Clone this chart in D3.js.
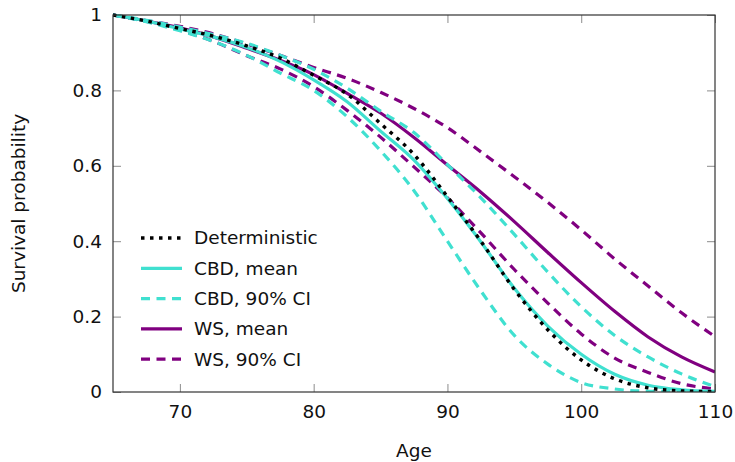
<!DOCTYPE html>
<html>
<head>
<meta charset="utf-8">
<script src="https://cdn.jsdelivr.net/npm/d3@7"></script>
<style>
	html, body { margin: 0; padding: 0; background: #fff; }
	svg text { font-family: "DejaVu Sans", sans-serif; fill: #111; }
</style>
</head>
<body>
<div id="chart"></div>
<script>
"use strict";

var ages = [65, 67.5, 70, 72.5, 75, 77.5, 80, 82.5, 85, 87.5, 90, 92.5, 95, 97.5, 100, 102.5, 105, 107.5, 110];

var deterministic = [1, 0.984, 0.964, 0.944, 0.918, 0.886, 0.840, 0.790, 0.712, 0.630, 0.518, 0.400, 0.272, 0.165, 0.085, 0.035, 0.011, 0.003, 0.001];
var cbdMean  = [1, 0.984, 0.963, 0.942, 0.914, 0.877, 0.828, 0.770, 0.692, 0.615, 0.513, 0.398, 0.275, 0.175, 0.100, 0.047, 0.018, 0.006, 0.002];
var cbdUpper = [1, 0.986, 0.968, 0.948, 0.925, 0.893, 0.856, 0.806, 0.745, 0.688, 0.603, 0.515, 0.418, 0.318, 0.226, 0.150, 0.093, 0.048, 0.014];
var cbdLower = [1, 0.982, 0.958, 0.930, 0.893, 0.846, 0.800, 0.730, 0.640, 0.534, 0.400, 0.268, 0.150, 0.074, 0.025, 0.008, 0.002, 0.001, 0.000];
var wsMean   = [1, 0.984, 0.966, 0.942, 0.912, 0.880, 0.842, 0.792, 0.740, 0.675, 0.602, 0.530, 0.452, 0.370, 0.290, 0.214, 0.146, 0.093, 0.053];
var wsUpper  = [1, 0.985, 0.970, 0.950, 0.923, 0.893, 0.861, 0.832, 0.795, 0.752, 0.701, 0.637, 0.571, 0.503, 0.430, 0.353, 0.281, 0.210, 0.147];
var wsLower  = [1, 0.983, 0.960, 0.930, 0.892, 0.857, 0.810, 0.747, 0.676, 0.597, 0.515, 0.422, 0.325, 0.236, 0.154, 0.090, 0.052, 0.022, 0.008];

var xTicks = [70, 80, 90, 100, 110];
var yTicks = [0, 0.2, 0.4, 0.6, 0.8, 1];
var yTickLabels = ["0", "0.2", "0.4", "0.6", "0.8", "1"];

var legendLabels = ["Deterministic", "CBD, mean", "CBD, 90% CI", "WS, mean", "WS, 90% CI"];

var CYAN = "#40e0d0";
var PURPLE = "#800080";
var DASHED = "9 6.5";
var DOTTED = "3.5 5.5";
var FONT_SIZE = 18.5;

// one entry per drawn curve
var series = [
	{values: wsLower,       color: PURPLE, dash: DASHED, width: 3.2},
	{values: wsUpper,       color: PURPLE, dash: DASHED, width: 3.2},
	{values: wsMean,        color: PURPLE, dash: null,   width: 3.2},
	{values: cbdLower,      color: CYAN,   dash: DASHED, width: 3.2},
	{values: cbdUpper,      color: CYAN,   dash: DASHED, width: 3.2},
	{values: cbdMean,       color: CYAN,   dash: null,   width: 3.2},
	{values: deterministic, color: "#000", dash: DOTTED, width: 3.4}
];

var legendStyles = [
	{color: "#000", dash: DOTTED, width: 3.4},
	{color: CYAN,   dash: null,   width: 3.2},
	{color: CYAN,   dash: DASHED, width: 3.2},
	{color: PURPLE, dash: null,   width: 3.2},
	{color: PURPLE, dash: DASHED, width: 3.2}
];

var viewWidth = 735, viewHeight = 462;
var margins = {top: 15, right: 20, bottom: 70, left: 113};
var graphWidth = viewWidth - margins.left - margins.right;
var graphHeight = viewHeight - margins.top - margins.bottom;

var svg = d3.select("#chart").append("svg")
	.attr("width", viewWidth)
	.attr("height", viewHeight)
	.append("g")
		.attr("transform", "translate(" + margins.left + "," + margins.top + ")");

var x = d3.scaleLinear().domain([65, 110]).range([0, graphWidth]);
var y = d3.scaleLinear().domain([0, 1]).range([graphHeight, 0]);

// inside ticks on all four sides, pgfplots style
function tickAxis(axis, transform, cls) {
	var g = svg.append("g")
		.attr("class", cls)
		.attr("transform", transform)
		.call(axis);
	g.select(".domain").remove();
	g.selectAll(".tick line").attr("stroke", "#8c8c8c").attr("stroke-width", 1);
	g.selectAll(".tick text").attr("font-size", FONT_SIZE).attr("fill", "#111");
	return g;
}

tickAxis(d3.axisBottom(x).tickValues(xTicks).tickSize(-8).tickPadding(13),
	"translate(0," + graphHeight + ")", "x axis");

tickAxis(d3.axisTop(x).tickValues(xTicks).tickSize(-8).tickFormat(""), "translate(0,0)", "x2 axis");

tickAxis(d3.axisLeft(y).tickValues(yTicks).tickSize(-8).tickPadding(11)
	.tickFormat(function(d, i) { return yTickLabels[i]; }), "translate(0,0)", "y axis");

tickAxis(d3.axisRight(y).tickValues(yTicks).tickSize(-8).tickFormat(""),
	"translate(" + graphWidth + ",0)", "y2 axis");

var line = d3.line()
	.x(function(d, i) { return x(ages[i]); })
	.y(function(d) { return y(d); })
	.curve(d3.curveMonotoneX);

svg.append("clipPath").attr("id", "plot-clip")
	.append("rect").attr("x", 0).attr("y", -2).attr("width", graphWidth).attr("height", graphHeight + 2);

svg.append("g").attr("clip-path", "url(#plot-clip)")
	.selectAll("path")
	.data(series)
	.enter().append("path")
		.attr("d", function(s) { return line(s.values); })
		.attr("fill", "none")
		.attr("stroke", function(s) { return s.color; })
		.attr("stroke-width", function(s) { return s.width; })
		.attr("stroke-dasharray", function(s) { return s.dash; });

// frame
svg.append("rect")
	.attr("width", graphWidth)
	.attr("height", graphHeight)
	.attr("fill", "none")
	.attr("stroke", "#333")
	.attr("stroke-width", 1.2);

// legend, no box
var legend = svg.append("g").attr("transform", "translate(28,223)");
var rows = legend.selectAll("g")
	.data(legendLabels)
	.enter().append("g")
		.attr("transform", function(d, i) { return "translate(0," + (i * 30.3) + ")"; });

rows.append("line")
	.attr("x1", 0).attr("x2", 41)
	.attr("stroke", function(d, i) { return legendStyles[i].color; })
	.attr("stroke-width", function(d, i) { return legendStyles[i].width; })
	.attr("stroke-dasharray", function(d, i) { return legendStyles[i].dash; });

rows.append("text")
	.attr("x", 53)
	.attr("dy", "0.35em")
	.attr("font-size", FONT_SIZE)
	.text(function(d) { return d; });

// axis titles
svg.append("text")
	.attr("x", graphWidth / 2)
	.attr("y", graphHeight + 65)
	.attr("text-anchor", "middle")
	.attr("font-size", FONT_SIZE)
	.text("Age");

svg.append("text")
	.attr("transform", "translate(-88," + (graphHeight / 2) + ") rotate(-90)")
	.attr("text-anchor", "middle")
	.attr("font-size", FONT_SIZE)
	.text("Survival probability");
</script>
</body>
</html>
